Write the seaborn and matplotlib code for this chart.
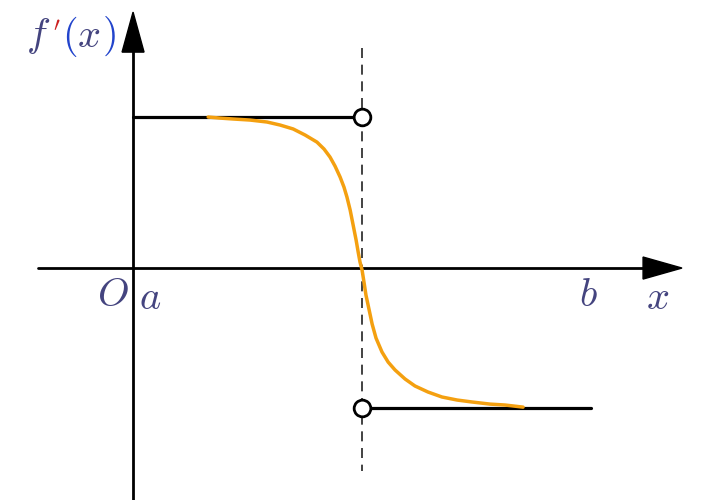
import numpy as np
import pandas as pd
import matplotlib.pyplot as plt
import seaborn as sns

# niveis da derivada (a esquerda e a direita do ponto c)
a, c, b = 0.0, 1.0, 2.0
nivel_esq = 1.0
nivel_dir = -0.93

# curva laranja
curva_x = [0.328, 0.380, 0.437, 0.511, 0.585, 0.642, 0.699, 0.751, 0.803, 0.834,
           0.860, 0.882, 0.904, 0.921, 0.934, 0.948, 0.961, 0.974, 0.983, 0.991,
           1.000, 1.009, 1.017, 1.031, 1.044, 1.061, 1.087, 1.114, 1.144, 1.188,
           1.231, 1.288, 1.349, 1.415, 1.480, 1.559, 1.624, 1.703]
curva_y = [1.000, 0.993, 0.987, 0.980, 0.967, 0.947, 0.921, 0.881, 0.834, 0.788,
           0.735, 0.675, 0.603, 0.536, 0.470, 0.384, 0.285, 0.185, 0.106, 0.040,
           -0.013, -0.099, -0.179, -0.278, -0.371, -0.464, -0.556, -0.623, -0.675, -0.735,
           -0.781, -0.821, -0.854, -0.874, -0.887, -0.901, -0.907, -0.921]

sns.set_style('white')
plt.rcParams['mathtext.fontset'] = 'cm'

fig = plt.figure(figsize=(7.01, 5.0), dpi=100)
ax = fig.add_axes([0, 0, 1, 1])
ax.set_xlim(-0.581, 2.480)
ax.set_ylim(-1.536, 1.775)
ax.axis('off')

cor_txt = '#44447f'

# eixos
ax.plot([-0.415, 2.25], [0, 0], color='black', lw=2.0, zorder=2)
ax.plot([0, 0], [-1.6, 1.45], color='black', lw=2.0, zorder=2)
ax.fill([2.227, 2.397, 2.227], [0.073, 0, -0.073], color='black', zorder=3)
ax.fill([-0.048, 0, 0.048], [1.430, 1.695, 1.430], color='black', zorder=3)

# linha tracejada em c
ax.plot([c, c], [1.457, -1.344], color='#222222', lw=1.2, ls=(0, (6, 4)), zorder=1)

# segmentos horizontais
seg = pd.DataFrame({'x': [a, c], 'y': [nivel_esq, nivel_esq]})
sns.lineplot(data=seg, x='x', y='y', color='black', lw=2.3, ax=ax, zorder=2)
seg = pd.DataFrame({'x': [c, b], 'y': [nivel_dir, nivel_dir]})
sns.lineplot(data=seg, x='x', y='y', color='black', lw=2.3, ax=ax, zorder=2)

# curva
df = pd.DataFrame({'x': curva_x, 'y': curva_y})
sns.lineplot(data=df, x='x', y='y', color='#f4a010', lw=2.5, sort=False, ax=ax, zorder=4,
             solid_joinstyle='round', solid_capstyle='round')

# bolinhas abertas
ax.plot([c, c], [nivel_esq, nivel_dir], 'o', ms=12, mfc='white', mec='black', mew=2.0, zorder=5)

ax.set_xlabel('')
ax.set_ylabel('')

# rotulos
fs = 29
ax.text(-0.09, -0.18, r'$O$', color=cor_txt, fontsize=fs, ha='center', va='center')
ax.text(0.075, -0.20, r'$a$', color=cor_txt, fontsize=fs, ha='center', va='center')
ax.text(b - 0.01, -0.18, r'$b$', color=cor_txt, fontsize=fs, ha='center', va='center')
ax.text(2.29, -0.20, r'$x$', color=cor_txt, fontsize=fs, ha='center', va='center')

yy = (268 - 36) / 151
ax.text((38 - 133) / 229, yy, r'$f$', color=cor_txt, fontsize=fs, ha='center', va='center')
ax.text((57 - 133) / 229, yy + 0.08, r'$\prime$', color='#cc2020', fontsize=15, ha='center', va='center')
ax.text((70 - 133) / 229, yy, r'$($', color='#2244cc', fontsize=fs, ha='center', va='center')
ax.text((89 - 133) / 229, yy, r'$x$', color=cor_txt, fontsize=fs, ha='center', va='center')
ax.text((109 - 133) / 229, yy, r'$)$', color='#2244cc', fontsize=fs, ha='center', va='center')

plt.savefig('out.png', dpi=100)
